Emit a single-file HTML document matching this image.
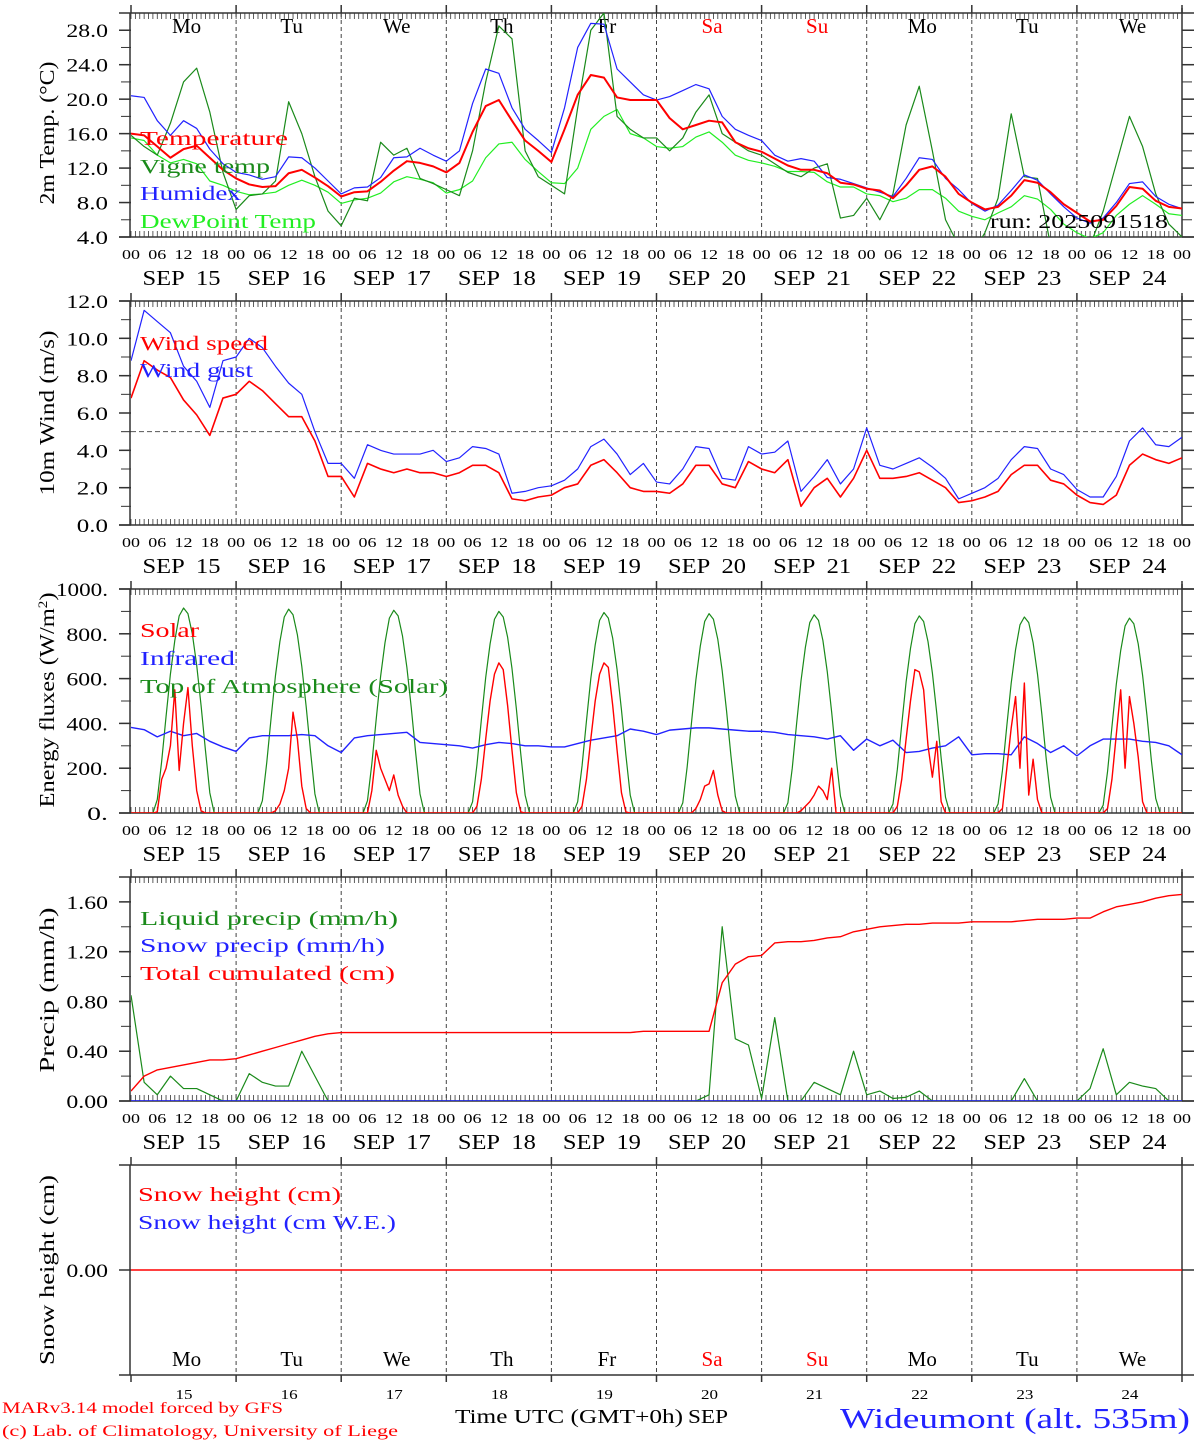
<!DOCTYPE html>
<html><head><meta charset="utf-8"><style>
html,body{margin:0;padding:0;background:#fff;}
svg{display:block;font-family:"Liberation Serif",serif;}
</style></head><body>
<svg id="chart" width="1194" height="1440" viewBox="0 0 1194 1440" xmlns="http://www.w3.org/2000/svg"></svg>
<script>
// ---------- data (3-hourly from SEP 15 00 UTC, 81 points) ----------
const days = ["15","16","17","18","19","20","21","22","23","24"];
const dayNames = ["Mo","Tu","We","Th","Fr","Sa","Su","Mo","Tu","We"];
const hourTicks = ["00","06","12","18"];
const tempTicks = [4,8,12,16,20,24,28];
const windTicks = [0,2,4,6,8,10,12];
const energyTicks = [0,200,400,600,800,1000];
const precipTicks = [0,0.4,0.8,1.2,1.6];

const temperature = [16,15.8,14.5,13.2,14.2,14.6,13.2,11.8, 10.8,10.1,9.8,9.9,11.4,11.8,10.9,9.9, 8.7,9.2,9.3,10.4,11.7,12.8,12.6,12.2, 11.5,12.6,16.2,19.2,19.9,17.5,15.2,14, 12.7,16.5,20.5,22.8,22.5,20.2,19.9,19.9, 19.9,17.8,16.5,17,17.5,17.3,15,14.3, 13.9,13.1,12.3,11.8,11.8,11.4,10.3,10.1, 9.6,9.4,8.5,10,11.8,12.2,11,9, 8,7.2,7.5,8.8,10.6,10.3,9.2,7.8, 6.8,5.8,6,7.6,9.8,9.6,8.2,7.5, 7.3];
const humidex = [20.4,20.2,17.5,15.8,17.5,16.6,14.2,12.5, 11.5,11.2,10.7,11,13.3,13.2,12,10.5, 9,9.7,9.8,10.9,13.2,13.3,14.3,13.5, 12.8,14,19.5,23.5,23,19,16.5,15.2, 13.8,19,26,28.8,28.7,23.5,22,20.5, 19.9,20.3,21,21.7,21.2,18,16.5,15.8, 15.2,13.5,12.8,13.1,12.8,10.9,10.7,10.2, 9.7,9.2,8.7,10.8,13.2,13,10.8,9.5, 7.9,7,7.7,9.4,11.2,10.6,9,7.5, 6.2,5.6,6.2,8,10.2,10.4,8.7,7.8, 7.3];
const dewpoint = [15.5,15.2,13.5,12.6,13,12.5,10.5,10, 9.3,8.9,9,9.2,10,10.6,10,9.2, 7.9,8.3,8.5,9.1,10.4,11,10.7,10.3, 9.1,9.5,10.5,13.2,14.8,15,13,11.6, 10.3,10.2,12,16.5,18,18.8,16,15.5, 14.5,14.3,14.5,15.6,16.2,15,13.5,12.9, 12.6,12.2,11.6,11.6,11.5,10.4,9.8,9.8, 9,8.8,8.1,8.5,9.5,9.5,8.5,7, 6.4,6,6.8,7.5,8.8,8.4,7.2,5.5, 4.5,3.8,4.5,6.5,7.8,8.8,7.8,6.7, 6.5];
const vigne = [15.8,14.5,13.5,17.2,22,23.6,18.5,11.5, 7.2,8.8,9,10.5,19.7,16,11,7, 5.3,8.5,8.2,15,13.5,14.3,10.8,10.2, 9.5,8.8,14,22,28.5,27,14,11, 10,9,19,28,30,18,16.5,15.5, 15.5,14,15.5,18.5,20.5,16,15,14, 13.5,12.5,11.5,11,12,12.5,6.2,6.5, 8.5,6,9,17,21.5,14,6,3, 2,4.5,8.5,18.3,11,10.8,3,1, 0,3,7,12.5,18,14.5,9,5.5, 4];

const windSpeed = [6.8,8.8,8.3,7.9,6.7,5.9,4.8,6.8, 7,7.7,7.2,6.5,5.8,5.8,4.5,2.6, 2.6,1.5,3.3,3,2.8,3,2.8,2.8, 2.6,2.8,3.2,3.2,2.8,1.4,1.3,1.5, 1.6,2,2.2,3.2,3.5,2.8,2,1.8, 1.8,1.7,2.2,3.2,3.2,2.2,2,3.4, 3,2.8,3.5,1,2,2.5,1.5,2.5, 4,2.5,2.5,2.6,2.8,2.4,2,1.2, 1.3,1.5,1.8,2.7,3.2,3.2,2.4,2.2, 1.6,1.2,1.1,1.6,3.2,3.8,3.5,3.3, 3.6];
const windGust = [8.8,11.5,10.9,10.3,8.5,7.7,6.3,8.8, 9,10,9.5,8.5,7.6,7,5,3.3, 3.3,2.5,4.3,4,3.8,3.8,3.8,4, 3.4,3.6,4.2,4.1,3.8,1.7,1.8,2, 2.1,2.4,3,4.2,4.6,3.8,2.7,3.3, 2.3,2.2,3,4.2,4.1,2.5,2.4,4.2, 3.8,3.9,4.5,1.8,2.6,3.5,2.2,3, 5.2,3.2,3,3.3,3.6,3.1,2.5,1.4, 1.7,2,2.5,3.5,4.2,4.1,3,2.7, 1.9,1.5,1.5,2.6,4.5,5.2,4.3,4.2, 4.7];

// solar: hourly values from 06 to 18 UTC each day
const solar = [
 [5,150,200,300,550,190,400,560,300,100,10,0,0],
 [0,0,0,10,40,100,200,450,330,120,20,0,0],
 [0,100,280,200,150,100,170,80,30,0,0,0,0],
 [0,30,150,330,500,620,670,640,480,280,90,5,0],
 [0,30,150,330,500,620,670,650,480,280,90,5,0],
 [0,0,0,20,60,120,130,190,80,10,0,0,0],
 [0,0,0,10,30,50,80,120,100,60,200,0,0],
 [0,30,150,330,500,640,630,550,300,160,320,50,0],
 [0,20,200,380,520,200,580,80,240,60,0,0,0],
 [0,20,150,350,550,200,520,400,250,50,0,0,0]];
// top of atmosphere: hourly 05..19 UTC, per day
const toa = [
 [0,60,230,430,620,770,880,915,890,800,660,480,280,90,0],
 [0,55,225,425,615,765,875,910,885,795,655,475,275,85,0],
 [0,55,220,420,610,760,870,905,880,790,650,470,270,85,0],
 [0,50,215,415,605,755,865,900,875,785,645,465,265,80,0],
 [0,50,210,410,600,750,860,895,870,780,640,460,260,80,0],
 [0,45,205,405,595,745,855,890,865,775,635,455,255,75,0],
 [0,45,200,400,590,740,850,885,860,770,630,450,250,75,0],
 [0,40,195,395,585,735,845,880,855,765,625,445,245,70,0],
 [0,40,190,390,580,730,840,875,850,760,620,440,240,70,0],
 [0,35,185,385,575,725,835,870,845,755,615,435,235,65,0]];
const infrared = [382,372,340,365,345,355,320,295, 275,335,345,345,345,350,345,300, 270,335,345,350,355,360,315,310, 305,300,290,305,315,310,300,300, 295,295,310,325,335,345,375,365, 350,370,375,380,380,375,370,365, 365,360,350,345,340,330,345,280, 330,300,325,270,275,290,300,340, 260,265,265,260,340,310,270,300, 255,300,330,330,330,320,315,300, 260];

const liquid = [0.85,0.15,0.05,0.2,0.1,0.1,0.05,0, 0,0.22,0.15,0.12,0.12,0.4,0.2,0, 0,0,0,0,0,0,0,0, 0,0,0,0,0,0,0,0, 0,0,0,0,0,0,0,0, 0,0,0,0,0.05,1.4,0.5,0.45, 0.02,0.67,0,0,0.15,0.1,0.05,0.4, 0.05,0.08,0.02,0.03,0.08,0,0,0, 0,0,0,0,0.18,0,0,0, 0,0.1,0.42,0.05,0.15,0.12,0.1,0, 0];
const snowPrecip = new Array(81).fill(0);
const totalCum = [0.08,0.2,0.25,0.27,0.29,0.31,0.33,0.33, 0.34,0.37,0.4,0.43,0.46,0.49,0.52,0.54, 0.55,0.55,0.55,0.55,0.55,0.55,0.55,0.55, 0.55,0.55,0.55,0.55,0.55,0.55,0.55,0.55, 0.55,0.55,0.55,0.55,0.55,0.55,0.55,0.56, 0.56,0.56,0.56,0.56,0.56,0.95,1.1,1.16, 1.17,1.27,1.28,1.28,1.29,1.31,1.32,1.36, 1.38,1.4,1.41,1.42,1.42,1.43,1.43,1.43, 1.44,1.44,1.44,1.44,1.45,1.46,1.46,1.46, 1.47,1.47,1.52,1.56,1.58,1.6,1.63,1.65, 1.66];
const snowHeight = new Array(81).fill(0);

// ---------- drawing ----------
const svg = document.getElementById('chart');
const NS = 'http://www.w3.org/2000/svg';
const X0 = 131, X1 = 1182, DAYW = (X1 - X0) / 10;
function xh(h){ return X0 + h * DAYW / 24; }
function mk(tag, attrs, parent){
  const e = document.createElementNS(NS, tag);
  for (const k in attrs) e.setAttribute(k, attrs[k]);
  (parent || svg).appendChild(e);
  return e;
}
function txt(s, attrs, parent){ const e = mk('text', attrs, parent); e.textContent = s; return e; }

const panels = {
  temp:   {top:13,  bottom:237, min:4,  max:30},
  wind:   {top:301, bottom:525, min:0,  max:12},
  energy: {top:589, bottom:813, min:0,  max:1000},
  precip: {top:877, bottom:1101,min:0,  max:1.8},
  snow:   {top:1165,bottom:1375,min:-1, max:1}
};
function yv(p, v){ return p.bottom - (v - p.min) * (p.bottom - p.top) / (p.max - p.min); }

let clipN = 0;
function clipFor(p){
  const id = 'clip' + (clipN++);
  const cp = mk('clipPath', {id});
  mk('rect', {x:X0, y:p.top, width:X1-X0, height:p.bottom-p.top}, cp);
  return 'url(#' + id + ')';
}

function frame(p, name, ticks, fmt, minorStep, hourly){
  const g = mk('g', {});
  
  
  mk('line', {x1:119, y1:p.top, x2:1194, y2:p.top, stroke:'#333', 'stroke-width':1.5}, g);
  mk('line', {x1:X0-1, y1:p.top, x2:X0-1, y2:p.bottom, stroke:'#333', 'stroke-width':1.5}, g);
  mk('line', {x1:X1, y1:p.top-5, x2:X1, y2:p.bottom, stroke:'#333', 'stroke-width':1.5}, g);
  mk('line', {x1:119, y1:p.bottom, x2:1194, y2:p.bottom, stroke:'#333', 'stroke-width':1.5}, g);
  for (let d = 0; d <= 10; d++){
    const x = X0 + d * DAYW;
    mk('line', {x1:x, y1:p.top-8, x2:x, y2:p.top, stroke:'#333', 'stroke-width':1.5}, g);
    if (d > 0 && d < 10) mk('line', {x1:x, y1:p.top, x2:x, y2:p.bottom, stroke:'#444', 'stroke-width':1, 'stroke-dasharray':'4,3'}, g);
    if (!hourly) mk('line', {x1:x, y1:p.bottom, x2:x, y2:p.bottom+7, stroke:'#333', 'stroke-width':1.5}, g);
  }
  if (hourly){
    for (let h = 0; h <= 240; h++){
      const x = xh(h);
      mk('line', {x1:x, y1:p.top, x2:x, y2:p.top+6, stroke:'#333', 'stroke-width':0.8}, g);
      mk('line', {x1:x, y1:p.bottom, x2:x, y2:p.bottom-6, stroke:'#333', 'stroke-width':0.8}, g);
    }
    for (let d = 0; d <= 10; d++){
      for (let k = 0; k < 4; k++){
        if (d === 10 && k > 0) break;
        const t = txt(hourTicks[k], {x:xh(d*24 + k*6) - 9, y:p.bottom+22, 'font-size':14, fill:'#000', textLength:18, lengthAdjust:'spacingAndGlyphs'}, g);
        
        
      }
    }
    days.forEach((dd, i) => {
      const t = txt('SEP  ' + dd, {x:X0 + (i+0.5)*DAYW - 41, y:p.bottom+48, 'font-size':21, fill:'#000', textLength:78, lengthAdjust:'spacingAndGlyphs', 'xml:space':'preserve', style:'white-space:pre'}, g);
      
      
    });
  }
  if (minorStep){
    for (let v = p.min; v <= p.max + 1e-9; v += minorStep){
      const y = yv(p, v);
      mk('line', {x1:121, y1:y, x2:X0, y2:y, stroke:'#333', 'stroke-width':1}, g);
      mk('line', {x1:X1, y1:y, x2:X1+10, y2:y, stroke:'#333', 'stroke-width':1}, g);
    }
  }
  ticks.forEach(v => {
    const y = yv(p, v);
    mk('line', {x1:119, y1:y, x2:X0, y2:y, stroke:'#333', 'stroke-width':1.5}, g);
    mk('line', {x1:X1, y1:y, x2:X1+12, y2:y, stroke:'#333', 'stroke-width':1.5}, g);
    const s = fmt(v);
    const w = 10.4 * s.length;
    const t = txt(s, {x:108 - w, y:y+7, 'font-size':19, fill:'#000', textLength:w, lengthAdjust:'spacingAndGlyphs'}, g);
    
    
  });
}
function ytitle(s, cy, len, name){
  const t = txt(s, {x:-len/2, y:0, 'font-size':21, fill:'#000', textLength:len, lengthAdjust:'spacingAndGlyphs', transform:'translate(54,' + cy + ') rotate(-90)'});
  
  
  return t;
}
function legend(s, y, color, len, name, x){
  const t = txt(s, {x:x||140, y:y+7, 'font-size':20, fill:color, textLength:len, lengthAdjust:'spacingAndGlyphs'});
  
  
}
function series(p, vals, stepH, color, w, name, clip){
  let d = '';
  vals.forEach((v, i) => { d += (i ? 'L' : 'M') + xh(i*stepH).toFixed(2) + ',' + yv(p, v).toFixed(2); });
  const e = mk('path', {d, fill:'none', stroke:color, 'stroke-width':w, 'stroke-linejoin':'round', 'clip-path':clip});
  
  
  return e;
}
function dailySeries(p, arr, startH, color, w, name, clip){
  const pts = [];
  for (let h = 0; h <= 240; h++){
    const d = Math.floor(h/24), hh = h % 24;
    let v = 0;
    if (d < 10){ const k = hh - startH; if (k >= 0 && k < arr[d].length) v = arr[d][k]; }
    pts.push(v);
  }
  return series(p, pts, 1, color, w, name, clip);
}
function dayNameRow(y){
  dayNames.forEach((n, i) => {
    const red = (n === 'Sa' || n === 'Su');
    const t = txt(n, {x:X0 + (i+0.5)*DAYW + 3, y, 'font-size':21, 'text-anchor':'middle', fill: red ? '#ff0000' : '#000'});
    
    
  });
}

// Panel 1: temperature
let P = panels.temp, c = clipFor(P);
frame(P, 'temp', tempTicks, v => v.toFixed(1), 2, true);
dayNameRow(33);
ytitle('2m Temp. (\u00B0C)', 133, 143, 'temp-y-axis-title');
series(P, dewpoint, 3, '#22ee22', 1.2, 'dewpoint-line', c);
series(P, vigne, 3, '#1a8a1a', 1.2, 'vigne-temp-line', c);
series(P, humidex, 3, '#2222ff', 1.2, 'humidex-line', c);
series(P, temperature, 3, '#ff0000', 2, 'temperature-line', c);
legend('Temperature', 138, '#ff0000', 148, 'legend-temperature');
legend('Vigne temp', 166, '#1a8a1a', 130, 'legend-vigne-temp');
legend('Humidex', 193, '#2222ff', 101, 'legend-humidex');
legend('DewPoint Temp', 221, '#22ee22', 176, 'legend-dewpoint');
legend('run: 2025091518', 221, '#000', 178, 'run-label', 990);

// Panel 2: wind
P = panels.wind; c = clipFor(P);
frame(P, 'wind', windTicks, v => v.toFixed(1), 1, true);
ytitle('10m Wind (m/s)', 413, 165, 'wind-y-axis-title');
const ref = mk('line', {x1:X0, y1:yv(P,5), x2:X1, y2:yv(P,5), stroke:'#555', 'stroke-width':1, 'stroke-dasharray':'5,3'});


series(P, windGust, 3, '#2222ff', 1.2, 'wind-gust-line', c);
series(P, windSpeed, 3, '#ff0000', 1.6, 'wind-speed-line', c);
legend('Wind speed', 343, '#ff0000', 128, 'legend-wind-speed');
legend('Wind gust', 370, '#2222ff', 113, 'legend-wind-gust');

// Panel 3: energy
P = panels.energy; c = clipFor(P);
frame(P, 'energy', energyTicks, v => v.toFixed(0) + '.', 100, true);
const et = ytitle('Energy fluxes (W/m', 700, 215, 'energy-y-axis-title');
const sup = mk('tspan', {'font-size':13, dy:-7}, et); sup.textContent = '2';
const cl = mk('tspan', {dy:7}, et); cl.textContent = ')';
dailySeries(P, toa, 5, '#1a8a1a', 1.2, 'toa-solar-line', c);
series(P, infrared, 3, '#2222ff', 1.4, 'infrared-line', c);
dailySeries(P, solar, 6, '#ff0000', 1.4, 'solar-line', c);
legend('Solar', 630, '#ff0000', 59, 'legend-solar');
legend('Infrared', 658, '#2222ff', 95, 'legend-infrared');
legend('Top of Atmosphere (Solar)', 686, '#1a8a1a', 308, 'legend-toa');

// Panel 4: precip
P = panels.precip; c = clipFor(P);
frame(P, 'precip', precipTicks, v => v.toFixed(2), 0.2, true);
ytitle('Precip (mm/h)', 990, 165, 'precip-y-axis-title');
series(P, liquid, 3, '#1a8a1a', 1.2, 'liquid-precip-line', c);
series(P, snowPrecip, 3, '#2222ff', 1.4, 'snow-precip-line', c);
series(P, totalCum, 3, '#ff0000', 1.4, 'total-cumulated-line', c);
legend('Liquid precip (mm/h)', 918, '#1a8a1a', 258, 'legend-liquid-precip');
legend('Snow precip (mm/h)', 945, '#2222ff', 245, 'legend-snow-precip');
legend('Total cumulated (cm)', 973, '#ff0000', 255, 'legend-total-cumulated');

// Panel 5: snow
P = panels.snow; c = clipFor(P);
frame(P, 'snow', [0], v => v.toFixed(2), 0, false);
ytitle('Snow height (cm)', 1270, 190, 'snow-y-axis-title');
series(P, snowHeight, 3, '#ff0000', 1.4, 'snow-height-line', c);
legend('Snow height (cm)', 1194, '#ff0000', 203, 'legend-snow-height', 138);
legend('Snow height (cm W.E.)', 1222, '#2222ff', 258, 'legend-snow-height-we', 138);
dayNameRow(1366);
days.forEach((dd, i) => {
  const t = txt(dd, {x:X0 + (i+0.5)*DAYW - 8, y:1399, 'font-size':14, fill:'#000', textLength:17, lengthAdjust:'spacingAndGlyphs'});
  
  
});

// footer
let f = txt('Time UTC (GMT+0h)', {x:455, y:1423, 'font-size':20, fill:'#000', textLength:228, lengthAdjust:'spacingAndGlyphs'});
 
f = txt('SEP', {x:688, y:1423, 'font-size':20, fill:'#000', textLength:40, lengthAdjust:'spacingAndGlyphs'});
 
f = txt('MARv3.14 model forced by GFS', {x:2, y:1413, 'font-size':16, fill:'#ff0000', textLength:281, lengthAdjust:'spacingAndGlyphs'});
 
f = txt('(c) Lab. of Climatology, University of Liege', {x:2, y:1436, 'font-size':16, fill:'#ff0000', textLength:396, lengthAdjust:'spacingAndGlyphs'});
 
f = txt('Wideumont (alt. 535m)', {x:840, y:1428, 'font-size':28, fill:'#2222ff', textLength:350, lengthAdjust:'spacingAndGlyphs'});
 
</script>
</body></html>
